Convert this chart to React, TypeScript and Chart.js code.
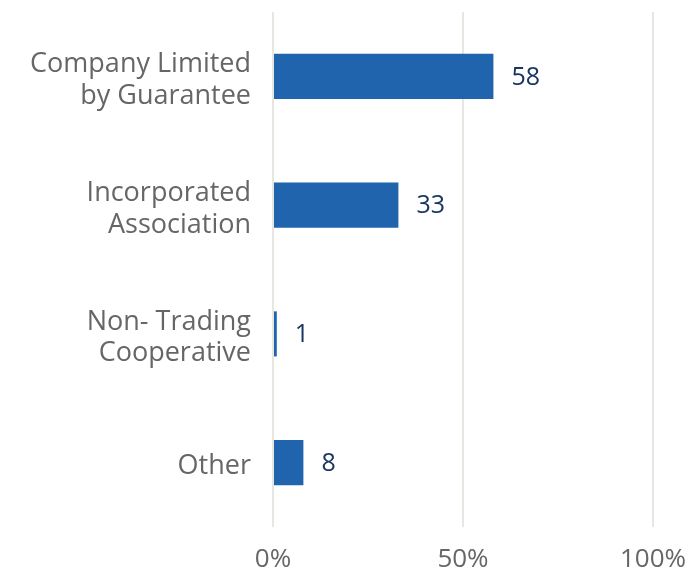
import React, { useEffect, useRef } from "react";
import { Chart, registerables } from "chart.js";

Chart.register(...registerables);

const categories: (string | string[])[] = [
  ["Company Limited", "by Guarantee"],
  ["Incorporated", "Association"],
  ["Non- Trading", "Cooperative"],
  "Other",
];
const values: number[] = [58, 33, 1, 8];
const xTicks: number[] = [0, 50, 100];

const FONT = "'Open Sans', sans-serif";

const valueLabels = {
  id: "valueLabels",
  afterDatasetsDraw(chart: any) {
    const ctx = chart.ctx;
    const meta = chart.getDatasetMeta(0);
    ctx.save();
    ctx.font = `25px ${FONT}`;
    ctx.fillStyle = "#1b3562";
    ctx.textAlign = "left";
    ctx.textBaseline = "middle";
    meta.data.forEach((bar: any, i: number) => {
      ctx.fillText(String(values[i]), bar.x + 18, bar.y + 1);
    });
    ctx.restore();
  },
};

export default function App() {
  const ref = useRef<HTMLCanvasElement | null>(null);
  useEffect(() => {
    document.body.style.margin = "0";
    if (!ref.current) return;
    const chart = new Chart(ref.current, {
      type: "bar",
      data: {
        labels: categories,
        datasets: [
          {
            data: values,
            backgroundColor: "#1f64ad",
            borderWidth: 0,
            barPercentage: 0.35,
            categoryPercentage: 1,
          },
        ],
      },
      options: {
        indexAxis: "y",
        responsive: false,
        animation: false,
        layout: { padding: { top: 12, right: 36, left: 0, bottom: 0 } },
        plugins: {
          legend: { display: false },
          tooltip: { enabled: false },
          title: { display: false },
        },
        scales: {
          x: {
            min: 0,
            max: 100,
            afterFit(scale: any) {
              scale.height = 44;
              scale.paddingLeft = 0;
              scale.paddingRight = 0;
            },
            afterBuildTicks(scale: any) {
              scale.ticks = xTicks.map((v) => ({ value: v }));
            },
            border: { display: false },
            grid: {
              color: "#e8e6e1",
              lineWidth: 2,
              drawTicks: false,
            },
            ticks: {
              padding: 17,
              color: "#666666",
              font: { family: FONT, size: 26 },
              callback: (v: any) => `${v}%`,
            },
          },
          y: {
            afterFit(scale: any) {
              scale.width = 273;
              scale.paddingTop = 0;
              scale.paddingBottom = 0;
            },
            border: { display: false },
            grid: { display: false, drawTicks: false },
            ticks: {
              padding: 22,
              labelOffset: 4,
              color: "#666666",
              font: { family: FONT, size: 27, lineHeight: 1.18 },
            },
          },
        },
      },
      plugins: [valueLabels],
    });
    return () => chart.destroy();
  }, []);
  return (
    <div style={{ width: 689, height: 571 }}>
      <canvas ref={ref} width={689} height={571} />
    </div>
  );
}
